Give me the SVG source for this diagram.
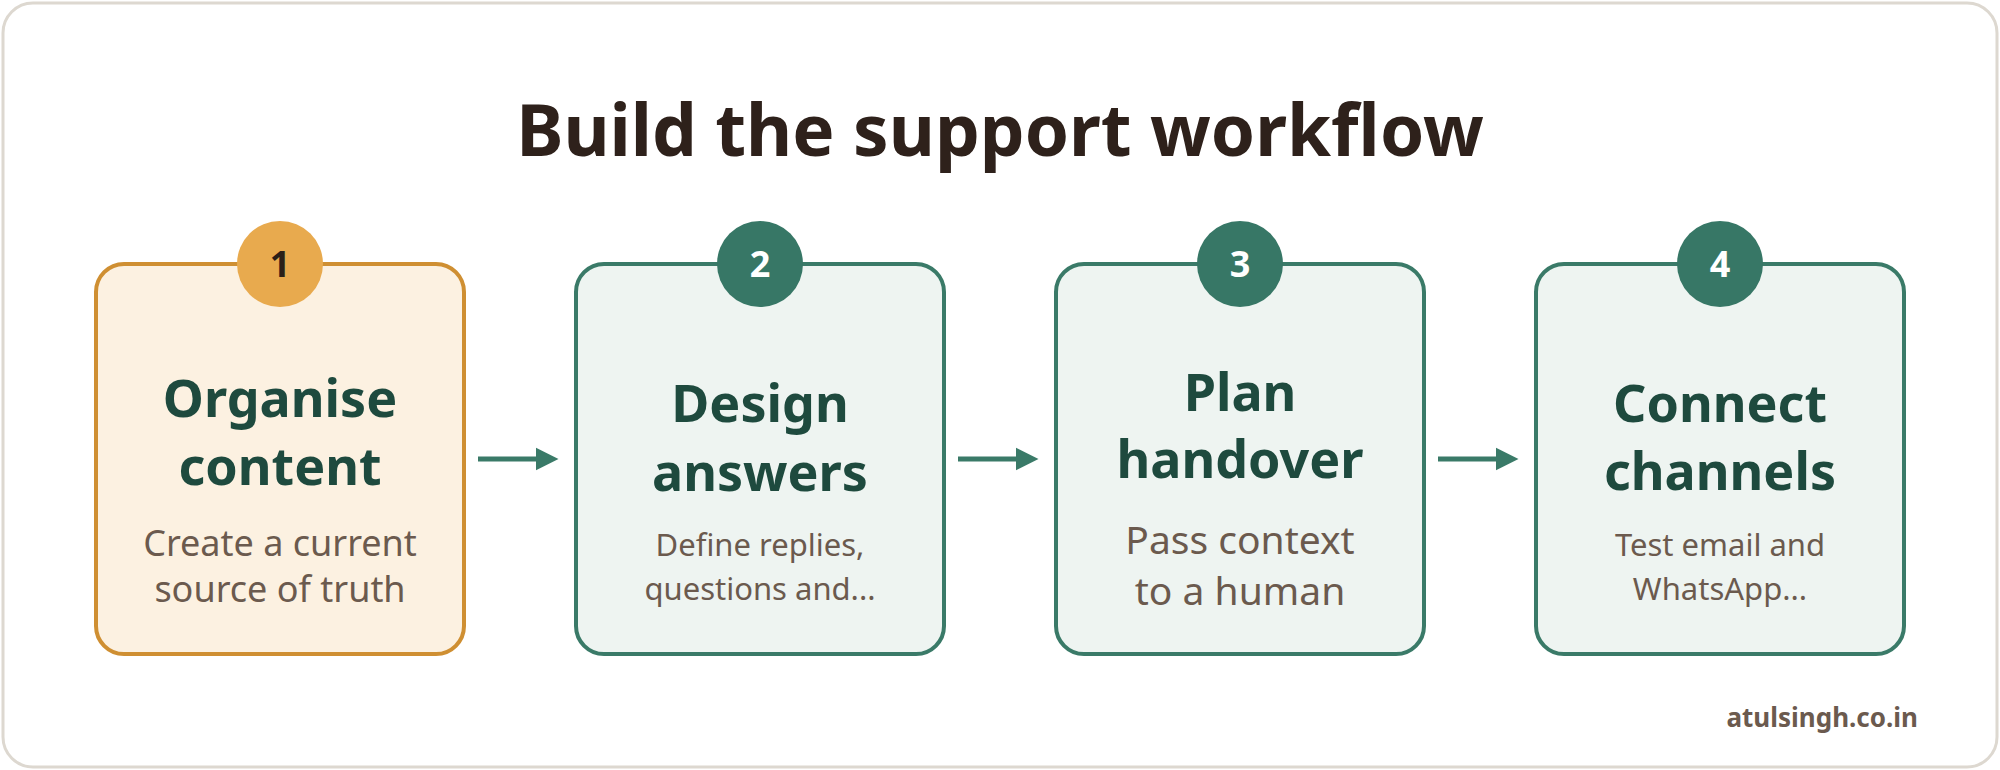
<svg xmlns="http://www.w3.org/2000/svg" width="2000" height="770" viewBox="0 0 2000 770">
<style>
text{font-family:"Noto Sans","Open Sans",sans-serif;text-anchor:middle}
.ttl{font-size:71px;font-weight:700;fill:#2e211b}
.h{font-size:52px;font-weight:700;fill:#1e4a3e}
.d{fill:#6b5a4e}
.card{fill:#eef4f1;stroke:#3a7a68;stroke-width:4}
.badge{fill:#377766}
.num{font-size:36px;font-weight:700;fill:#fff}
.conn{stroke:#3a7a68;stroke-width:5;fill:none}
</style>
<defs><marker id="ah" viewBox="0 0 10 10" refX="0" refY="5" markerWidth="4.5" markerHeight="7" markerUnits="strokeWidth" orient="auto"><path d="M0,0L10,5L0,10z" fill="#3a7a68"/></marker></defs>
<rect x="3" y="3" width="1994" height="764" rx="30" fill="#fff" stroke="#ddd8d0" stroke-width="3"/>
<text class="ttl" x="1000" y="156">Build the support workflow</text>
<g id="connectors">
<path class="conn" d="M478 459H536" marker-end="url(#ah)"/>
<path class="conn" d="M958 459H1016" marker-end="url(#ah)"/>
<path class="conn" d="M1438 459H1496" marker-end="url(#ah)"/>
</g>
<g id="n1">
<rect x="96" y="264" width="368" height="390" rx="28" fill="#fcf1e1" stroke="#cf8f32" stroke-width="4"/>
<circle cx="280" cy="264" r="43" fill="#e8aa4e"/>
<text class="num" x="280" y="277" style="fill:#2b2018">1</text>
<text class="h" x="280" y="417">Organise</text>
<text class="h" x="280" y="485">content</text>
<text class="d" x="280" y="556" font-size="36">Create a current</text>
<text class="d" x="280" y="602" font-size="36">source of truth</text>
</g>
<g id="n2">
<rect class="card" x="576" y="264" width="368" height="390" rx="28"/>
<circle class="badge" cx="760" cy="264" r="43"/>
<text class="num" x="760" y="277">2</text>
<text class="h" x="760" y="422">Design</text>
<text class="h" x="760" y="491">answers</text>
<text class="d" x="760" y="556" font-size="31">Define replies,</text>
<text class="d" x="760" y="600" font-size="31">questions and...</text>
</g>
<g id="n3">
<rect class="card" x="1056" y="264" width="368" height="390" rx="28"/>
<circle class="badge" cx="1240" cy="264" r="43"/>
<text class="num" x="1240" y="277">3</text>
<text class="h" x="1240" y="411">Plan</text>
<text class="h" x="1240" y="478">handover</text>
<text class="d" x="1240" y="554" font-size="39">Pass context</text>
<text class="d" x="1240" y="605" font-size="39">to a human</text>
</g>
<g id="n4">
<rect class="card" x="1536" y="264" width="368" height="390" rx="28"/>
<circle class="badge" cx="1720" cy="264" r="43"/>
<text class="num" x="1720" y="277">4</text>
<text class="h" x="1720" y="422">Connect</text>
<text class="h" x="1720" y="490">channels</text>
<text class="d" x="1720" y="556" font-size="31">Test email and</text>
<text class="d" x="1720" y="600" font-size="31">WhatsApp...</text>
</g>
<text x="1918" y="727" style="text-anchor:end;font-size:26px;font-weight:700;fill:#6b5a4e">atulsingh.co.in</text>
</svg>
